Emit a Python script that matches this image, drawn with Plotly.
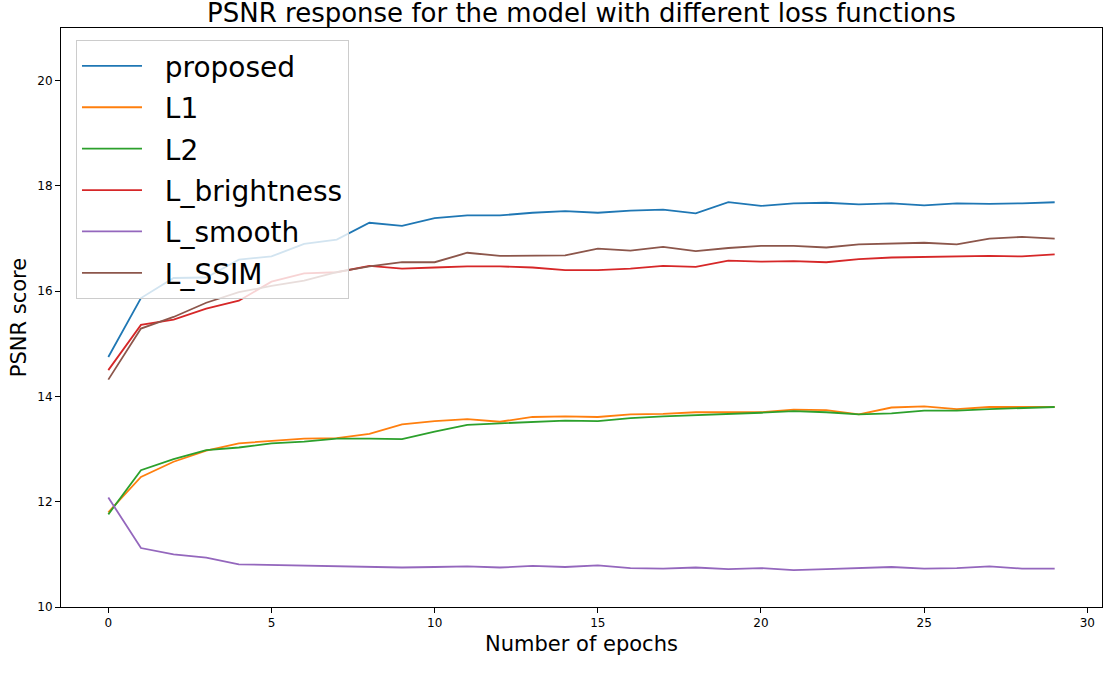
"""PSNR over training epochs for the model trained with different loss functions."""

import plotly.graph_objects as go

EPOCHS = list(range(30))

PROPOSED = [14.75, 15.87, 16.25, 16.26, 16.60, 16.66, 16.90, 16.98, 17.30, 17.24,
            17.39, 17.44, 17.44, 17.49, 17.52, 17.49, 17.53, 17.55, 17.48, 17.69,
            17.62, 17.67, 17.68, 17.65, 17.67, 17.63, 17.67, 17.66, 17.67, 17.69]
L1 = [11.80, 12.47, 12.76, 12.97, 13.11, 13.16, 13.20, 13.21, 13.29, 13.47,
      13.53, 13.57, 13.52, 13.61, 13.62, 13.61, 13.66, 13.67, 13.70, 13.70,
      13.70, 13.75, 13.74, 13.66, 13.79, 13.81, 13.76, 13.80, 13.80, 13.80]
L2 = [11.76, 12.60, 12.81, 12.98, 13.03, 13.11, 13.14, 13.20, 13.20, 13.19,
      13.33, 13.46, 13.49, 13.52, 13.54, 13.53, 13.59, 13.62, 13.64, 13.66,
      13.69, 13.72, 13.70, 13.66, 13.68, 13.73, 13.73, 13.76, 13.78, 13.80]
L_BRIGHTNESS = [14.50, 15.36, 15.46, 15.67, 15.82, 16.18, 16.34, 16.36, 16.48, 16.43,
                16.45, 16.47, 16.47, 16.45, 16.40, 16.40, 16.43, 16.48, 16.46, 16.58,
                16.56, 16.57, 16.55, 16.61, 16.64, 16.65, 16.67, 16.67, 16.66, 16.70]
L_SMOOTH = [12.08, 11.12, 11.00, 10.94, 10.81, 10.80, 10.79, 10.78, 10.77, 10.75,
            10.76, 10.77, 10.75, 10.78, 10.76, 10.79, 10.74, 10.73, 10.75, 10.72,
            10.74, 10.70, 10.72, 10.74, 10.76, 10.73, 10.74, 10.77, 10.73, 10.73]
L_SSIM = [14.32, 15.29, 15.51, 15.78, 15.98, 16.10, 16.20, 16.36, 16.47, 16.55,
          16.55, 16.73, 16.67, 16.68, 16.68, 16.81, 16.77, 16.84, 16.76, 16.82,
          16.86, 16.86, 16.83, 16.89, 16.90, 16.92, 16.89, 17.00, 17.03, 17.00]

SERIES = [
    ("proposed", PROPOSED, "#1f77b4"),
    ("L1", L1, "#ff7f0e"),
    ("L2", L2, "#2ca02c"),
    ("L_brightness", L_BRIGHTNESS, "#d62728"),
    ("L_smooth", L_SMOOTH, "#9467bd"),
    ("L_SSIM", L_SSIM, "#8c564b"),
]

FONT = "DejaVu Sans"
GAP = "\u00a0\u00a0"  # widen the gap between legend line and label, like matplotlib

fig = go.Figure()
for name, values, color in SERIES:
    fig.add_trace(
        go.Scatter(
            x=EPOCHS,
            y=values,
            mode="lines",
            name=GAP + name,
            legendgroup=name,
            line=dict(color=color, width=1.8),
        )
    )

axis_style = dict(
    showgrid=False,
    zeroline=False,
    showline=True,
    linecolor="black",
    linewidth=1,
    mirror=True,
    ticks="outside",
    ticklen=5,
    tickwidth=1,
    tickcolor="black",
    tickfont=dict(family=FONT, size=12, color="black"),
)

fig.update_layout(
    width=1103,
    height=675,
    paper_bgcolor="white",
    plot_bgcolor="white",
    margin=dict(l=61, r=1, t=28, b=68),
    font=dict(family=FONT, color="black"),
    title=dict(
        text="PSNR response for the model with different loss functions",
        font=dict(family=FONT, size=26, color="black"),
        x=0.5,
        xref="paper",
        xanchor="center",
        y=0.981,
        yref="container",
        yanchor="middle",
    ),
    xaxis=dict(
        range=[-1.45, 30.45],
        tickvals=[0, 5, 10, 15, 20, 25, 30],
        title=dict(text="Number of epochs", font=dict(family=FONT, size=21), standoff=6),
        **axis_style,
    ),
    yaxis=dict(
        range=[10, 21],
        tickvals=[10, 12, 14, 16, 18, 20],
        title=dict(text="PSNR score", font=dict(family=FONT, size=21), standoff=4),
        **axis_style,
    ),
    legend=dict(
        x=0.0144,
        y=0.979,
        xanchor="left",
        yanchor="top",
        traceorder="grouped",
        tracegroupgap=2,
        itemwidth=60,
        bgcolor="rgba(255,255,255,0.8)",
        bordercolor="#cccccc",
        borderwidth=1,
        font=dict(family=FONT, size=28, color="black"),
    ),
)

# the page body has an 8px default margin; drop it so the figure fills the window
fig.write_html(
    "out.html",
    config={"displayModeBar": False},
    post_script="document.body.style.margin = '0';",
)
